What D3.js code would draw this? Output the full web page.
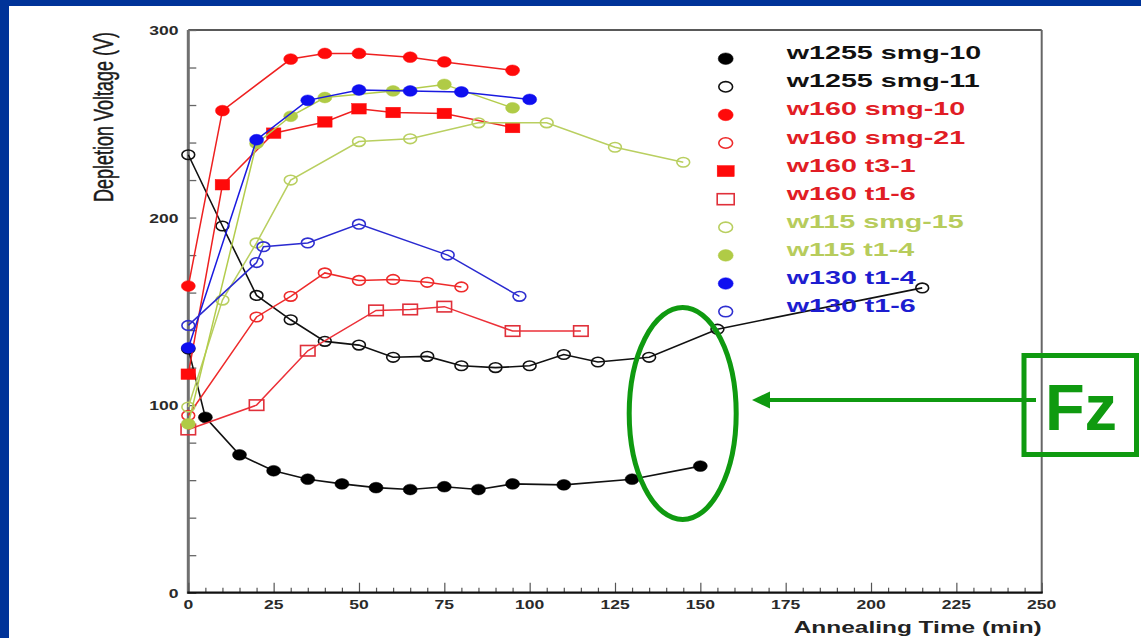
<!DOCTYPE html>
<html>
<head>
<meta charset="utf-8">
<script src="https://cdn.jsdelivr.net/npm/d3@7"></script>
<style>
  html, body { margin: 0; padding: 0; background: #ffffff; }
  svg { display: block; }
</style>
</head>
<body>
<svg id="chart" width="1141" height="638"></svg>
<script>
// Annealing times (min) and depletion voltages (V) for each sample
const w1255_smg10_t = [0, 5, 15, 25, 35, 45, 55, 65, 75, 85, 95, 110, 130, 150];
const w1255_smg10_v = [130, 93.5, 73.5, 65, 60.5, 58, 56, 55, 56.5, 55, 58, 57.5, 60.5, 67.5];

const w1255_smg11_t = [0, 10, 20, 30, 40, 50, 60, 70, 80, 90, 100, 110, 120, 135, 155, 215];
const w1255_smg11_v = [233.5, 195.5, 158.5, 145.5, 134, 132, 125.5, 126, 121, 120, 121, 127, 123, 125.5, 140.5, 162.5];

const w160_smg10_t = [0, 10, 30, 40, 50, 65, 75, 95];
const w160_smg10_v = [163.5, 257, 284.5, 287.5, 287.5, 285.5, 283, 278.5];

const w160_smg21_t = [0, 20, 30, 40, 50, 60, 70, 80];
const w160_smg21_v = [94.5, 147, 158, 170.5, 166.5, 167, 165.5, 163];

const w160_t31_t = [0, 10, 25, 40, 50, 60, 75, 95];
const w160_t31_v = [116.5, 217.5, 245, 251, 258, 256, 255.5, 248];

const w160_t16_t = [0, 20, 35, 55, 65, 75, 95, 115];
const w160_t16_v = [87, 100, 129, 150.5, 151, 152.5, 139.5, 139.5];

const w115_smg15_t = [0, 10, 20, 30, 50, 65, 85, 105, 125, 145];
const w115_smg15_v = [99, 156, 186.5, 220, 240.5, 242, 250.5, 250.5, 237.5, 229.5];

const w115_t14_t = [0, 20, 30, 40, 60, 75, 95];
const w115_t14_v = [90, 239.5, 254, 264, 267.5, 271, 258.5];

const w130_t14_t = [0, 20, 35, 50, 65, 80, 100];
const w130_t14_v = [130.5, 241.5, 262.5, 268, 267.5, 267, 263];

const w130_t16_t = [0, 20, 22, 35, 50, 76, 97];
const w130_t16_v = [142.5, 176, 184.5, 186.5, 196.5, 180, 158];

const seriesNames = ["w1255 smg-10", "w1255 smg-11", "w160 smg-10", "w160 smg-21", "w160 t3-1",
                     "w160 t1-6", "w115 smg-15", "w115 t1-4", "w130 t1-4", "w130 t1-6"];

const xTickLabels = [0, 25, 50, 75, 100, 125, 150, 175, 200, 225, 250];
const yTickLabels = [0, 100, 200, 300];
const xTitle = "Annealing Time (min)";
const yTitle = "Depletion Voltage (V)";
const calloutLabel = "Fz";

// Drawing styles per series
const styles = [
  { line: "#111111", mark: "#000000", text: "#111111", shape: "circle", filled: true },
  { line: "#111111", mark: "#111111", text: "#111111", shape: "circle", filled: false },
  { line: "#ee2020", mark: "#ff0a0a", text: "#e11d25", shape: "circle", filled: true },
  { line: "#ee2a2a", mark: "#ee2a2a", text: "#e11d25", shape: "circle", filled: false },
  { line: "#ee2020", mark: "#ff0a0a", text: "#e11d25", shape: "square", filled: true },
  { line: "#ec3038", mark: "#e0303a", text: "#e11d25", shape: "square", filled: false },
  { line: "#b9cf60", mark: "#b9cf60", text: "#b7cc5c", shape: "circle", filled: false },
  { line: "#b3cc4c", mark: "#b0cb46", text: "#b7cc5c", shape: "circle", filled: true },
  { line: "#1a1ae0", mark: "#0f0ff0", text: "#1d1dd0", shape: "circle", filled: true },
  { line: "#2a2ad0", mark: "#2f2fd0", text: "#1d1dd0", shape: "circle", filled: false }
];

const seriesData = [
  [w1255_smg10_t, w1255_smg10_v], [w1255_smg11_t, w1255_smg11_v],
  [w160_smg10_t, w160_smg10_v], [w160_smg21_t, w160_smg21_v],
  [w160_t31_t, w160_t31_v], [w160_t16_t, w160_t16_v],
  [w115_smg15_t, w115_smg15_v], [w115_t14_t, w115_t14_v],
  [w130_t14_t, w130_t14_v], [w130_t16_t, w130_t16_v]
].map(([t, v], i) => ({
  name: seriesNames[i],
  style: styles[i],
  points: t.map((tt, j) => ({ t: tt, v: v[j] }))
}));

const svg = d3.select("#chart");
const W = 1141, H = 638;
const FONT = "'Liberation Sans', Arial, Helvetica, sans-serif";

// Slide background with blue frame on top and left
svg.append("rect").attr("x", 0).attr("y", 0).attr("width", W).attr("height", H).attr("fill", "#ffffff");
svg.append("rect").attr("x", 0).attr("y", 0).attr("width", W).attr("height", 6).attr("fill", "#003399");
svg.append("rect").attr("x", 0).attr("y", 0).attr("width", 9).attr("height", H).attr("fill", "#003399");

const plot = { left: 188.3, right: 1041.7, top: 30, bottom: 592.7 };
const x = d3.scaleLinear().domain([0, 250]).range([plot.left, plot.right]);
const y = d3.scaleLinear().domain([0, 300]).range([plot.bottom, plot.top]);

// Horizontally widened text helper
function wideText(g, px, py, str, opts) {
  return g.append("text")
    .attr("transform", `translate(${px},${py}) scale(${opts.sx || 1},1)`)
    .attr("text-anchor", opts.anchor || "start")
    .attr("font-family", FONT)
    .attr("font-weight", opts.weight || "bold")
    .attr("font-size", opts.size)
    .attr("fill", opts.fill || "#222")
    .text(str);
}

// Frame lines: top and right
svg.append("line").attr("x1", plot.left).attr("x2", plot.right).attr("y1", plot.top).attr("y2", plot.top)
  .attr("stroke", "#222").attr("stroke-width", 1.5);
svg.append("line").attr("x1", plot.right).attr("x2", plot.right).attr("y1", plot.top).attr("y2", plot.bottom)
  .attr("stroke", "#666").attr("stroke-width", 2);

// Y axis: minor ticks every 20, labels every 100
const yAxis = d3.axisRight(y).tickValues(d3.range(0, 301, 20)).tickSize(8).tickFormat("");
const gy = svg.append("g").attr("transform", `translate(${plot.left},0)`).call(yAxis);
gy.select(".domain").remove();
gy.selectAll(".tick line").attr("stroke", "#666").attr("stroke-width", 1.3);
svg.append("line").attr("x1", plot.left).attr("x2", plot.left).attr("y1", plot.top).attr("y2", plot.bottom + 1)
  .attr("stroke", "#707070").attr("stroke-width", 3);

yTickLabels.forEach(v => {
  wideText(svg, 178.5, y(v) + 5, String(v), { size: 13.5, sx: 1.3, anchor: "end", fill: "#2a2a2a" });
});

// X axis: minor ticks every 5, major every 25
const xMinor = d3.axisTop(x).tickValues(d3.range(0, 251, 5).filter(d => d % 25 !== 0)).tickSize(5).tickFormat("");
const gxm = svg.append("g").attr("transform", `translate(0,${plot.bottom})`).call(xMinor);
gxm.select(".domain").remove();
gxm.selectAll(".tick line").attr("stroke", "#555").attr("stroke-width", 1.2);
const xMajor = d3.axisTop(x).tickValues(xTickLabels).tickSize(10).tickFormat("");
const gxM = svg.append("g").attr("transform", `translate(0,${plot.bottom})`).call(xMajor);
gxM.select(".domain").remove();
gxM.selectAll(".tick line").attr("stroke", "#555").attr("stroke-width", 1.2);
svg.append("line").attr("x1", plot.left - 1).attr("x2", plot.right + 1).attr("y1", plot.bottom).attr("y2", plot.bottom)
  .attr("stroke", "#111").attr("stroke-width", 2.2);

xTickLabels.forEach(v => {
  wideText(svg, x(v), 609, String(v), { size: 13.5, sx: 1.3, anchor: "middle", fill: "#2a2a2a" });
});

// Axis titles
wideText(svg, plot.right, 633, xTitle, { size: 16.3, sx: 1.5, anchor: "end", fill: "#222" });
svg.append("text")
  .attr("transform", `translate(113,117) rotate(-90) scale(1,1.5)`)
  .attr("text-anchor", "middle")
  .attr("font-family", FONT)
  .attr("font-size", 18)
  .attr("fill", "#1a1a1a")
  .attr("stroke", "#1a1a1a").attr("stroke-width", 0.3)
  .text(yTitle);

// Marker drawing
function drawMarker(g, cx, cy, st, big) {
  const rx = big ? 7.5 : 7, ry = big ? 5.8 : 5.4;
  const sw = 1.6;
  if (st.shape === "circle") {
    g.append("ellipse").attr("cx", cx).attr("cy", cy)
      .attr("rx", st.filled ? rx : rx - 0.6).attr("ry", st.filled ? ry : ry - 0.6)
      .attr("fill", st.filled ? st.mark : "none")
      .attr("stroke", st.mark).attr("stroke-width", st.filled ? 0.5 : sw);
  } else {
    const w = big ? 17 : 14.5, h = big ? 11 : 10.5;
    g.append("rect").attr("x", cx - w / 2).attr("y", cy - h / 2).attr("width", w).attr("height", h)
      .attr("fill", st.filled ? st.mark : "none")
      .attr("stroke", st.mark).attr("stroke-width", st.filled ? 0.5 : sw);
  }
}

const line = d3.line().x(d => x(d.t)).y(d => y(d.v));

seriesData.forEach(s => {
  const g = svg.append("g");
  g.append("path").datum(s.points).attr("d", line)
    .attr("fill", "none").attr("stroke", s.style.line)
    .attr("stroke-width", s.style.line === "#111111" ? 1.6 : 1.5);
  s.points.forEach(p => drawMarker(g, x(p.t), y(p.v), s.style, false));
});

// Legend
const legend = svg.append("g");
seriesData.forEach((s, i) => {
  const ly = 58.7 + i * 28.1;
  drawMarker(legend, 725.7, ly, s.style, true);
  wideText(legend, 786.7, ly + 0.5, s.name, { size: 17.5, sx: 1.64, anchor: "start", fill: s.style.text });
});

// Callout: ellipse, arrow and labelled box
const green = "#0f9a10";
svg.append("ellipse").attr("cx", 682.7).attr("cy", 413.5).attr("rx", 53.5).attr("ry", 106)
  .attr("fill", "none").attr("stroke", green).attr("stroke-width", 5);
svg.append("line").attr("x1", 768).attr("x2", 1036).attr("y1", 400).attr("y2", 400)
  .attr("stroke", green).attr("stroke-width", 4);
svg.append("path").attr("d", "M752,400 L770,391.5 L770,408.5 Z").attr("fill", green);
svg.append("rect").attr("x", 1024).attr("y", 355.5).attr("width", 112.5).attr("height", 99)
  .attr("fill", "none").attr("stroke", green).attr("stroke-width", 5);
svg.append("text").attr("x", 1081).attr("y", 430).attr("text-anchor", "middle")
  .attr("font-family", FONT).attr("font-weight", "bold").attr("font-size", 65)
  .attr("fill", green).text(calloutLabel);
</script>
</body>
</html>
